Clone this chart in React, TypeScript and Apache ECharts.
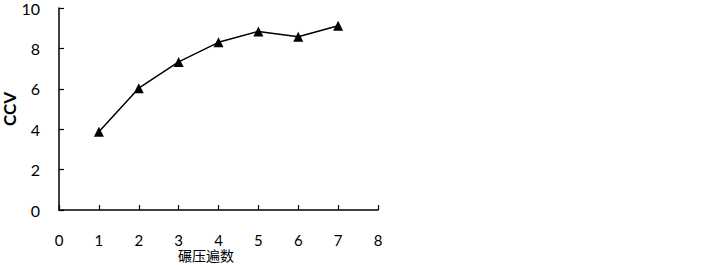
import React, { useEffect, useRef } from "react";
import * as echarts from "echarts";

const passes = [1, 2, 3, 4, 5, 6, 7];
const ccvValues = [3.87, 6.03, 7.33, 8.3, 8.84, 8.58, 9.12];
const xAxisName = "碾压遍数";
const yAxisName = "CCV";

export default function App() {
  const ref = useRef<HTMLDivElement>(null);
  useEffect(() => {
    if (!ref.current) return;
    const chart = echarts.init(ref.current, null, { renderer: "svg" });
    const font = "Lato, 'Open Sans', sans-serif";
    chart.setOption({
      animation: false,
      backgroundColor: "#ffffff",
      grid: { left: 59, top: 8, width: 319, height: 202, outerBoundsMode: "none", containLabel: false },
      xAxis: {
        type: "value",
        min: 0,
        max: 8,
        interval: 1,
        name: xAxisName,
        nameLocation: "middle",
        nameGap: 38,
        nameMoveOverlap: false,
        nameTextStyle: {
          fontFamily: "'Noto Sans CJK SC', sans-serif",
          fontSize: 14,
          lineHeight: 14,
          color: "#000",
          padding: [0, 25, 0, 0],
        },
        axisLine: { lineStyle: { color: "#000", width: 1.5 } },
        axisTick: { inside: true, length: 5, lineStyle: { color: "#000", width: 1.2 } },
        axisLabel: { margin: 22, lineHeight: 15, color: "#000", fontSize: 15, fontFamily: font },
        splitLine: { show: false },
      },
      yAxis: {
        type: "value",
        min: 0,
        max: 10,
        interval: 2,
        name: yAxisName,
        nameLocation: "middle",
        nameGap: 38,
        nameTextStyle: { fontFamily: font, fontSize: 17, fontWeight: "bold", color: "#000" },
        axisLine: { show: true, lineStyle: { color: "#000", width: 1.5 } },
        axisTick: { show: true, inside: true, length: 5, lineStyle: { color: "#000", width: 1.2 } },
        axisLabel: { margin: 19, color: "#000", fontSize: 16, fontFamily: font },
        splitLine: { show: false },
      },
      series: [
        {
          type: "line",
          data: passes.map((p, i) => [p, ccvValues[i]]),
          symbol: "triangle",
          symbolSize: 10,
          lineStyle: { color: "#000", width: 1.5 },
          itemStyle: { color: "#000" },
        },
      ],
    });
    return () => chart.dispose();
  }, []);
  return (
    <div
      ref={ref}
      style={{ position: "fixed", left: 0, top: 0, width: 722, height: 265 }}
    />
  );
}
